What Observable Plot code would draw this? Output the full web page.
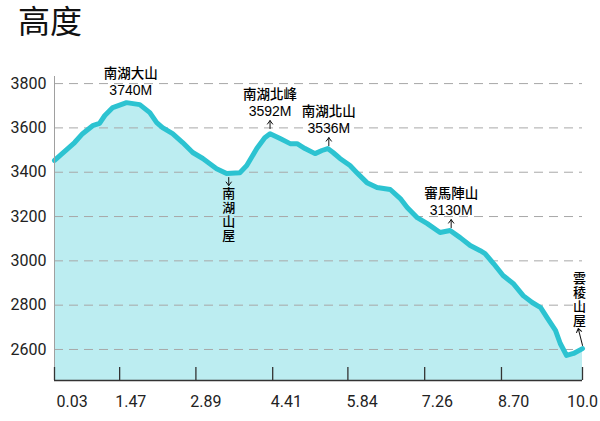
<!DOCTYPE html>
<html><head><meta charset="utf-8">
<script src="https://cdn.jsdelivr.net/npm/d3@7"></script>
<script src="https://cdn.jsdelivr.net/npm/@observablehq/plot@0.6"></script>
<style>
body{margin:0;background:#fff;}
#title{height:50px;line-height:44px;font-size:32px;font-family:"Liberation Sans","Noto Sans CJK TC","Noto Sans CJK SC",sans-serif;padding-left:18px;color:#111;}
#chart svg{display:block;}
</style></head><body>
<div id="title">高度</div>
<div id="chart"></div>
<script>
// Trail profile: distance (km) and elevation (m)
const distance = [0.03,0.41,0.56,0.75,0.88,0.98,1.13,1.39,1.64,1.83,1.96,2.07,2.26,2.45,2.64,2.83,3.09,3.28,3.53,3.66,3.85,4.00,4.10,4.29,4.48,4.61,4.76,4.95,5.08,5.19,5.29,5.42,5.61,5.74,5.93,6.12,6.37,6.56,6.69,6.88,7.07,7.31,7.50,7.69,7.88,8.07,8.16,8.32,8.50,8.69,8.88,9.05,9.21,9.34,9.49,9.58,9.70,9.83,10.0];
const elevation = [3453,3534,3574,3610,3620,3656,3692,3714,3705,3669,3624,3601,3574,3534,3489,3462,3416,3394,3398,3430,3507,3556,3574,3552,3529,3529,3507,3484,3498,3507,3489,3462,3430,3398,3353,3331,3322,3281,3241,3195,3168,3128,3137,3105,3069,3046,3033,2988,2934,2898,2843,2812,2789,2740,2686,2627,2573,2582,2604];

const yTicks = [2600,2800,3000,3200,3400,3600,3800];
const xLabelValues = [0.03,1.47,2.89,4.41,5.84,7.26,8.70,10.0];
const xLabelText = ["0.03","1.47","2.89","4.41","5.84","7.26","8.70","10.0"];
const xTickMarks = [0.03,1.26,2.70,4.15,5.57,7.02,8.47,10.0];

// summit annotations (name, labelled height, distance, elevation where arrow starts)
const summitNames = ["南湖北峰","南湖北山","審馬陣山"];
const summitHeights = ["3592M","3536M","3130M"];
const summitDist = [4.10,5.21,7.52];
const summitBase = [3597,3520,3150];

const topName = "南湖大山";
const topHeight = "3740M";
const topDist = 1.47;
const topBase = 3692;

const hutNames = ["南湖山屋","雲稜山屋"];
const hutDist = [3.32,10.0];
const hutBase = [3376,2618];

const yMin = 2460, yMax = 3832;
const profile = distance.map((d,i)=>({d, e: elevation[i]}));
const idx = summitNames.map((_,i)=>i);

const arrowShape = {
  draw(context, l) {
    const w = 2.6;
    context.moveTo(0, 0);
    context.lineTo(0, -l);
    context.moveTo(-w, -l + 3.5);
    context.lineTo(0, -l);
    context.lineTo(w, -l + 3.5);
  }
};

const cjk = "'Noto Sans CJK TC','Noto Sans CJK SC',sans-serif";
const num = "'Liberation Sans',Arial,sans-serif";

const chart = Plot.plot({
  width: 600,
  height: 371,
  marginTop: 26,
  marginBottom: 41,
  marginLeft: 54,
  marginRight: 18,
  style: {fontFamily: "Roboto", fontSize: "16px", color: "#222", background: "#fff"},
  x: {domain: [0.03, 10.0], axis: null},
  y: {domain: [yMin, yMax], axis: null},
  marks: [
    Plot.areaY(profile, {x: "d", y1: yMin, y2: "e", fill: "#bcedf1"}),
    Plot.ruleY(yTicks, {stroke: "#a8a8a8", strokeWidth: 1, strokeDasharray: "9,6"}),
    Plot.lineY(profile, {x: "d", y: "e", stroke: "#2cc3d1", strokeWidth: 5, strokeLinejoin: "round", strokeLinecap: "round"}),
    Plot.ruleX([0.03], {y1: yMin, y2: yMax, stroke: "#a0a0a0", strokeWidth: 1}),
    Plot.ruleY([yMin], {x1: 0.03, x2: 10.0, stroke: "#333", strokeWidth: 1.5}),
    Plot.ruleX(xTickMarks, {y1: yMin, y2: yMin, insetTop: -13, stroke: "#333", strokeWidth: 1.3}),
    // y tick labels
    Plot.text(yTicks, {x: 0.03, y: d=>d, text: d=>String(d), textAnchor: "end", dx: -8, fontSize: 16, fill: "#222"}),
    // x tick labels
    Plot.text([0], {x: i=>xLabelValues[i], y: ()=>yMin, text: i=>xLabelText[i], textAnchor: "start", dx: 2, dy: 21, fontSize: 16, fill: "#222"}),
    Plot.text(d3.range(1, xLabelValues.length), {x: i=>xLabelValues[i], y: ()=>yMin, text: i=>xLabelText[i], dy: 21, fontSize: 16, fill: "#222"}),
    // top summit
    Plot.text([0], {x: ()=>topDist, y: ()=>topBase, text: ()=>topName, dy: -34, fontSize: 13.5, fontWeight: 500, fontFamily: cjk, fill: "#000"}),
    Plot.text([0], {x: ()=>topDist, y: ()=>topBase, text: ()=>topHeight, dy: -17.5, fontSize: 14, fontFamily: num, fill: "#000"}),
    // summits with arrows
    Plot.text(idx, {x: i=>summitDist[i], y: i=>summitBase[i], text: i=>summitNames[i], dy: -34, fontSize: 13.5, fontWeight: 500, fontFamily: cjk, fill: "#000"}),
    Plot.text(idx, {x: i=>summitDist[i], y: i=>summitBase[i], text: i=>summitHeights[i], dy: -17.5, fontSize: 14, fontFamily: num, fill: "#000"}),
    Plot.vector(idx, {x: i=>summitDist[i], y: i=>summitBase[i], length: 8, anchor: "start", shape: arrowShape, stroke: "#111", strokeWidth: 1}),
    // huts
    Plot.vector([0], {x: i=>hutDist[i], y: i=>hutBase[i], length: 8, rotate: 180, anchor: "start", shape: arrowShape, stroke: "#111", strokeWidth: 1}),
    Plot.text([0], {x: i=>hutDist[i], y: i=>hutBase[i], text: i=>hutNames[i].split("").join("\n"), lineHeight: 1.06, dy: 37, fontSize: 13, fontWeight: 500, fontFamily: cjk, fill: "#000"}),
    Plot.vector([1], {x: i=>hutDist[i], y: i=>hutBase[i], length: 17.5, rotate: -14, anchor: "start", shape: arrowShape, stroke: "#111", strokeWidth: 1}),
    Plot.text([1], {x: i=>hutDist[i], y: i=>hutBase[i], text: i=>hutNames[i].split("").join("\n"), lineHeight: 1.06, dx: -3, dy: -46, fontSize: 13, fontWeight: 500, fontFamily: cjk, fill: "#000"})
  ]
});
document.getElementById("chart").appendChild(chart);
</script>
</body></html>
